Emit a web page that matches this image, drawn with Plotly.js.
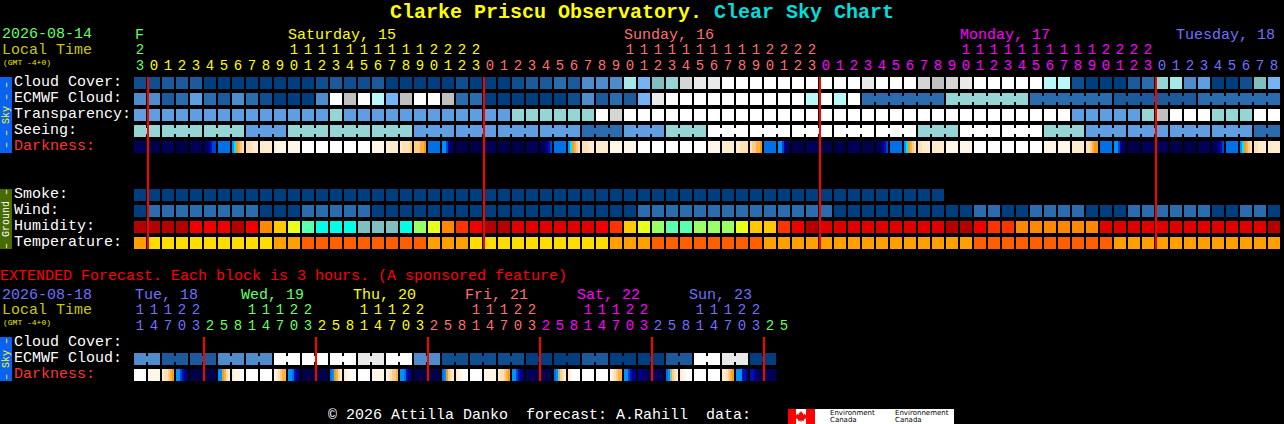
<!DOCTYPE html>
<html>
<head>
<meta charset="utf-8">
<script src="https://cdn.plot.ly/plotly-3.0.1.min.js"></script>
<style>html,body{margin:0;padding:0;background:#000;}</style>
</head>
<body>
<div id="chartdiv" style="width:1284px;height:424px;"></div>
<script>
// hour of each block, first the hourly table, then the 3 hour one
const mainHours = [23,0,1,2,3,4,5,6,7,8,9,10,11,12,13,14,15,16,17,18,19,20,21,22,23,
  0,1,2,3,4,5,6,7,8,9,10,11,12,13,14,15,16,17,18,19,20,21,22,23,
  0,1,2,3,4,5,6,7,8,9,10,11,12,13,14,15,16,17,18,19,20,21,22,23,
  0,1,2,3,4,5,6,7,8];
const extHours = [11,14,17,20,23,
  2,5,8,11,14,17,20,23, 2,5,8,11,14,17,20,23, 2,5,8,11,14,17,20,23,
  2,5,8,11,14,17,20,23, 2,5,8,11,14,17,20,23, 2,5];
const mainDayColors = ['#66ff66','#ffff00','#ff7070','#ff00ff','#7070ff'];
const extDayColors = ['#7070ff','#66ff66','#ffff00','#ff7070','#ff00ff','#7070ff','#66ff66'];

const mainDayLabels = ['Saturday, 15','Sunday, 16','Monday, 17','Tuesday, 18'];
const mainDayCols = [10.57,34.57,58.57,74];
const mainDayLabelColors = ['#ffff00','#ff7070','#ff00ff','#7070ff'];
const extDayLabels = ['Tue, 18','Wed, 19','Thu, 20','Fri, 21','Sat, 22','Sun, 23'];
const extDayCols = [-0.36,7.21,15.21,23.21,31.21,39.21];
const extDayLabelColors = ['#7070ff','#66ff66','#ffff00','#ff7070','#ff00ff','#7070ff'];

const skyLabels = ['Cloud Cover:','ECMWF Cloud:','Transparency:','Seeing:','Darkness:'];
const groundLabels = ['Smoke:','Wind:','Humidity:','Temperature:'];
const extLabels = ['Cloud Cover:','ECMWF Cloud:','Darkness:'];

// colour steps used by the tables, rows below hold an index in this list
const levelColors = ['#003f7f','#0f4f8f','#1c5a9c','#2b6cae','#4e8ccc','#5f9ee0','#75b3f5',
  '#80bfbf','#95d5d5','#a5e8e8','#b8f8f8','#c0c0c0','#d5d5d5','#e9e9e9','#ffffff',
  '#b50000','#e00000','#f00000','#ff3300','#ff8800','#ffc800','#e8ff1a','#99ff66','#5affb0','#00ffe6',
  '#ffa000','#ffdd00','#ff5f00'];
const darkColors = ['#00004a','#000058','#000066','#000090','#0010b0','#0045d0','#0070e6','#0090ff','#00e5ff',
  '#f59a1c','#ffb040','#ffcc80','#ffe0b4','#ffecd0','#fff6ea','#ffffff','#a0c090'];

const cloudCover = [1,1,2,2,2,0,0,0,0,0,0,0,0,1,2,1,1,2,0,0,0,0,0,1,0,
  0,0,1,2,2,3,2,4,4,4,9,6,7,8,12,13,13,14,14,14,14,14,14,14,14,14,14,
  13,14,14,14,12,11,12,13,14,14,14,14,14,10,10,1,0,0,0,2,3,8,9,4,5,0,0,1,7,6];
const ecmwfCloud = [4,4,2,3,5,3,2,4,3,1,0,0,0,4,14,11,14,10,6,11,14,14,11,3,3,
  0,0,0,0,0,0,1,4,2,3,2,6,13,14,14,14,14,14,14,14,14,14,14,10,14,10,14,
  3,3,3,3,3,3,8,8,8,8,8,8,3,3,3,3,3,3,2,2,2,2,2,2,3,3,3,3,3,3];
const transparency = [5,5,5,5,5,5,5,5,5,5,5,5,5,5,8,5,5,5,5,5,5,5,5,5,5,
  5,5,8,8,8,8,8,8,14,12,14,14,14,14,14,14,14,14,14,14,14,14,14,14,14,14,14,
  14,14,14,14,14,14,14,14,14,14,14,14,14,14,14,5,5,5,5,5,8,11,14,14,14,8,8,8,14,14];
const seeing = [8,8,8,8,8,8,8,8,5,5,5,8,8,8,8,8,8,8,8,8,5,5,5,5,5,
  5,5,5,5,5,5,5,3,3,3,5,5,5,8,8,8,14,14,14,14,14,14,14,14,14,14,14,
  14,14,14,14,8,8,8,14,14,14,14,14,14,8,8,8,5,5,5,5,5,5,5,5,5,5,5,5,3,3];
const smoke = [0,0,0,0,0,0,0,0,0,0,0,0,0,0,0,0,0,0,0,0,0,0,0,0,0,
  0,0,0,0,0,0,0,0,0,0,0,0,0,0,0,0,0,0,0,0,0,0,0,0,0,0,0,
  0,0,0,0,0,0];
const wind = [0,3,3,3,3,3,3,3,3,0,0,0,3,3,3,3,3,0,0,0,0,0,0,0,0,
  0,0,0,0,0,0,0,0,0,0,0,3,3,3,3,3,3,3,3,3,3,3,3,3,3,0,0,
  0,0,0,0,0,0,0,0,3,3,0,0,3,3,3,3,0,0,0,3,3,3,3,3,3,0,0,3,3,0];
const humidity = [15,15,15,15,17,17,17,15,17,19,20,21,23,24,24,24,7,7,7,24,22,21,19,18,17,
  15,15,16,16,16,16,16,16,17,18,20,21,22,23,23,22,22,22,21,20,20,18,17,15,16,16,16,
  16,16,16,16,16,16,15,15,17,18,18,19,19,19,19,19,19,16,16,16,16,16,16,16,16,16,16,16,16,15];
const temperature = [25,26,26,26,26,26,26,26,26,26,25,25,27,27,27,27,27,27,27,27,27,25,25,25,26,
  26,26,26,26,26,26,26,26,26,25,25,25,27,27,27,27,27,27,27,27,25,25,25,25,25,25,25,
  25,25,25,25,25,25,25,25,27,27,27,27,27,27,27,27,27,27,25,25,25,25,25,25,25,25,25,25,25,25];
const extCloud = [4,4,2,2,2,2,4,4,4,4,14,14,14,14,14,14,13,13,14,14,4,4,
  1,1,1,1,1,1,0,0,0,0,2,2,0,0,0,0,2,2,14,14,13,13,0,0];

// a darkness block is one colour or six steps across its width
const darkness = [1,0,1,0,1,[1,2,3,4,5,5],6,[7,8,9,10,11,12],[12,12,12,13,13,13],13,[13,14,14,14,14,14],14,
  15,15,15,15,15,14,13,[13,12,12,12,12,11],[11,11,11,10,10,9],6,[7,7,5,3,2,1],0,0,
  1,0,0,1,[1,1,2,3,4,5],6,[7,8,9,10,11,12],[12,12,12,13,13,13],13,14,14,15,15,15,15,15,14,13,[13,13,12,12,12,12],
  [12,11,11,10,10,9],6,[7,7,5,3,2,1],0,1,0,0,1,0,
  [1,1,2,3,4,5],6,[7,8,9,10,11,12],[12,12,13,13,13,13],13,14,14,15,15,15,15,15,14,14,13,[12,12,11,10,9,9],6,[7,7,5,3,2,1],
  0,1,1,0,0,1,[1,1,2,3,4,5],6,[7,8,9,10,11,12],[12,12,13,13,13,13],13];
const extDarkness = [15,14,[13,12,12,11,10,9],[7,7,5,4,3,2],0,0,[7,7,9,10,12,13],[13,14,14,14,15,15],15,15,
  [14,13,12,11,10,10],[7,7,6,4,3,2],0,0,[6,7,9,10,12,13],[13,14,14,15,15,15],15,14,[14,13,12,11,11,10],[7,7,6,4,3,2],
  0,0,[6,7,9,11,12,13],[13,14,14,15,15,15],15,14,[13,12,12,11,10,9],[7,7,5,4,3,2],1,0,
  [6,7,16,11,12,13],[13,14,15,15,15,15],15,15,[14,13,12,11,10,10],[7,7,5,4,3,3],[3,3,2,2,1,1],1,
  [6,7,16,11,12,13],[13,14,14,15,15,15],15,15,[13,13,12,11,10,9],[7,7,7,4,4,3],[4,4,3,2,1,1],1];

const mainMidnights = [0,24,48,72];
const extMidnights = [4,12,20,28,36,44];

// page size and table grid, in pixels
const W = 1284, H = 424;
const CELL = 14, ROW = 16, COL0 = 140, ROW0 = 83;
const colOf = px => (px - COL0) / CELL;
const rowOf = px => (px - ROW0) / ROW;
const MONO = 'Liberation Mono, monospace';

function stepScale(colors) {
  const out = [];
  colors.forEach((c, i) => {
    out.push([i / colors.length, c]);
    out.push([(i + 1) / colors.length, c]);
  });
  return out;
}

function range(n, from = 0) {
  return Array.from({length: n}, (_, i) => i + from);
}

function cellTrace(rows, ys, n) {
  const z = rows.map(r => range(n).map(i => (r && r[i] !== undefined) ? r[i] + 0.5 : null));
  return {
    type: 'heatmap', x: range(n), y: ys, z: z,
    zmin: 0, zmax: levelColors.length, colorscale: stepScale(levelColors),
    showscale: false, hoverinfo: 'skip', xgap: 2, ygap: 4,
  };
}

// thin joins between blocks of one forecast step
function joinTrace(values, joined, y) {
  const z = values.map((v, i) => (i < values.length - 1 && joined(i)) ? v + 0.5 : null);
  return {
    type: 'heatmap', x: range(values.length, 0).map(i => i + 0.5), y: [y], z: [z],
    zmin: 0, zmax: levelColors.length, colorscale: stepScale(levelColors),
    showscale: false, hoverinfo: 'skip', xgap: 12, ygap: 10,
  };
}

function darkTrace(cells, y) {
  const x = [], z = [];
  cells.forEach((cell, i) => {
    const steps = Array.isArray(cell) ? cell : [cell,cell,cell,cell,cell,cell];
    steps.forEach((s, k) => { x.push(i + (2 * k - 5) / CELL); z.push(s + 0.5); });
    x.push(i + 0.5); z.push(null);
  });
  return {
    type: 'heatmap', x: x, y: [y], z: [z],
    zmin: 0, zmax: darkColors.length, colorscale: stepScale(darkColors),
    showscale: false, hoverinfo: 'skip', ygap: 4,
  };
}

function redLines(cols, top, bottom) {
  const x = [], y = [];
  cols.forEach(c => { x.push(c + 4 / 7, c + 4 / 7, null); y.push(top, bottom, null); });
  return {type: 'scatter', mode: 'lines', x: x, y: y, line: {color: '#ff0000', width: 2}, hoverinfo: 'skip'};
}

function textTrace(xs, ys, texts, colors, pos, size) {
  return {
    type: 'scatter', mode: 'text', x: xs, y: ys, text: texts,
    textposition: pos || 'middle center',
    textfont: {family: MONO, size: size || 15, color: colors},
    hoverinfo: 'skip',
  };
}

// hour digits, colour changes when the hours wrap to a new day
function hourTraces(hours, dayColors, tensPx, onesPx) {
  let day = 0;
  const colors = hours.map((h, i) => {
    if (i > 0 && h < hours[i - 1]) day++;
    return dayColors[day];
  });
  const tens = range(hours.length).filter(i => hours[i] >= 10);
  return [
    textTrace(tens, tens.map(() => rowOf(tensPx)), tens.map(i => String(Math.floor(hours[i] / 10))), tens.map(i => colors[i]), null, 14),
    textTrace(range(hours.length), hours.map(() => rowOf(onesPx)), hours.map(h => String(h % 10)), colors, null, 14),
  ];
}

const data = [
  cellTrace([cloudCover, ecmwfCloud, transparency, seeing, null, null, null, smoke, wind, humidity, temperature], range(11), 82),
  joinTrace(ecmwfCloud, i => i >= 52 && (i - 51) % 6 != 0, 1),
  joinTrace(seeing, i => i % 3 != 1, 3),
  darkTrace(darkness, 4),
  cellTrace([extCloud], [rowOf(359)], 46),
  joinTrace(extCloud, i => i % 2 == 0, rowOf(359)),
  darkTrace(extDarkness, rowOf(375)),
  redLines(mainMidnights, -0.375, 10.375),
  redLines(extMidnights, rowOf(337), rowOf(381)),
  textTrace(mainDayCols, mainDayCols.map(() => rowOf(35)), mainDayLabels, mainDayLabelColors, 'middle right'),
  textTrace(extDayCols, extDayCols.map(() => rowOf(295)), extDayLabels, extDayLabelColors, 'middle right'),
  textTrace([colOf(135)], [rowOf(35)], ['F'], ['#66ff66'], 'middle right'),
  ...hourTraces(mainHours, mainDayColors, 50.5, 66.5),
  ...hourTraces(extHours, extDayColors, 310.5, 326.5),
  textTrace(skyLabels.map(() => colOf(14)), skyLabels.map((_, i) => rowOf(82 + 16 * i)), skyLabels,
    skyLabels.map(l => l == 'Darkness:' ? '#ff3333' : '#ffffff'), 'middle right'),
  textTrace(groundLabels.map(() => colOf(14)), groundLabels.map((_, i) => rowOf(194 + 16 * i)), groundLabels, '#ffffff', 'middle right'),
  textTrace(extLabels.map(() => colOf(14)), extLabels.map((_, i) => rowOf(342 + 16 * i)), extLabels,
    extLabels.map(l => l == 'Darkness:' ? '#ff3333' : '#ffffff'), 'middle right'),
];

// page level text and boxes, placed in pixels
const px = x => x / W;
const py = y => 1 - y / H;

function note(text, x, y, color, extra) {
  return Object.assign({
    xref: 'paper', yref: 'paper', x: px(x), y: py(y), text: text, showarrow: false,
    xanchor: 'left', yanchor: 'middle', borderpad: 0,
    font: {family: MONO, size: 15, color: color},
  }, extra || {});
}

function box(x0, y0, x1, y1, color) {
  return {type: 'rect', xref: 'paper', yref: 'paper', x0: px(x0), x1: px(x1), y0: py(y0), y1: py(y1),
    fillcolor: color, line: {width: 0}, layer: 'below'};
}

function sideLabel(text, y, color) {
  return note(text, 6, y, color, {xanchor: 'center', textangle: -90, font: {family: MONO, size: 10, color: color}});
}

const SANS = 'DejaVu Sans, sans-serif';
const leaf = [[0,-7],[1.5,-4],[3,-5],[2.5,-1.5],[5,-3],[6,-1],[7.5,-1.5],[6.5,1.5],[7,2.5],[3.5,5],[4,6.5],[0.5,6],[0.5,8],
  [-0.5,8],[-0.5,6],[-4,6.5],[-3.5,5],[-7,2.5],[-6.5,1.5],[-7.5,-1.5],[-6,-1],[-5,-3],[-2.5,-1.5],[-3,-5],[-1.5,-4]];
const leafPath = leaf.map((p, i) => (i ? 'L' : 'M') + px(801 + p[0] * 0.75) + ',' + py(416 + p[1] * 0.75)).join(' ') + ' Z';

const layout = {
  width: W, height: H,
  margin: {l: 0, r: 0, t: 0, b: 0},
  paper_bgcolor: '#000000',
  plot_bgcolor: '#000000',
  showlegend: false,
  title: {
    text: '<b><span style="color:#ffff00">Clarke Priscu Observatory.</span> <span style="color:#00dddd">Clear Sky Chart</span></b>',
    font: {family: MONO, size: 20},
    x: 0.5, xanchor: 'center', y: py(11), yanchor: 'middle',
  },
  xaxis: {range: [colOf(0), colOf(W)], visible: false, fixedrange: true},
  yaxis: {range: [rowOf(H), rowOf(0)], visible: false, fixedrange: true},
  shapes: [
    box(0, 77, 12, 153, '#0a62f0'),
    box(0, 189, 12, 249, '#476b00'),
    box(0, 337, 12, 381, '#0a62f0'),
    box(788, 409, 954, 424, '#ffffff'),
    box(788, 409, 796, 424, '#ff0000'),
    box(806, 409, 815, 424, '#ff0000'),
    {type: 'path', xref: 'paper', yref: 'paper', path: leafPath, fillcolor: '#ff0000', line: {width: 0}},
  ],
  annotations: [
    note('2026-08-14', 1, 35, '#66ff66'),
    note('Local Time', 1, 50.5, '#c8c800'),
    note('(GMT -4+0)', 2, 62, '#e8e800', {font: {family: MONO, size: 8, color: '#e8e800'}}),
    note('EXTENDED Forecast. Each block is 3 hours. (A sponsored feature)', -1, 276, '#ff0000'),
    note('2026-08-18', 1, 295, '#7070ff'),
    note('Local Time', 1, 310.5, '#c8c800'),
    note('(GMT -4+0)', 2, 322, '#e8e800', {font: {family: MONO, size: 8, color: '#e8e800'}}),
    note('© 2026 Attilla Danko  forecast: A.Rahill  data:', 327, 415, '#ffffff'),
    sideLabel('– – Sky – –', 115, '#ffff00'),
    sideLabel('– Ground –', 219, '#ffffff'),
    sideLabel('– Sky –', 359, '#ffff00'),
    note('Environment', 829, 413, '#000000', {font: {family: SANS, size: 7, color: '#000000'}}),
    note('Canada', 829, 420, '#000000', {font: {family: SANS, size: 7, color: '#000000'}}),
    note('Environnement', 894, 413, '#000000', {font: {family: SANS, size: 7, color: '#000000'}}),
    note('Canada', 894, 420, '#000000', {font: {family: SANS, size: 7, color: '#000000'}}),
  ],
};

Plotly.newPlot('chartdiv', data, layout, {displayModeBar: false, staticPlot: true});
</script>
</body>
</html>
